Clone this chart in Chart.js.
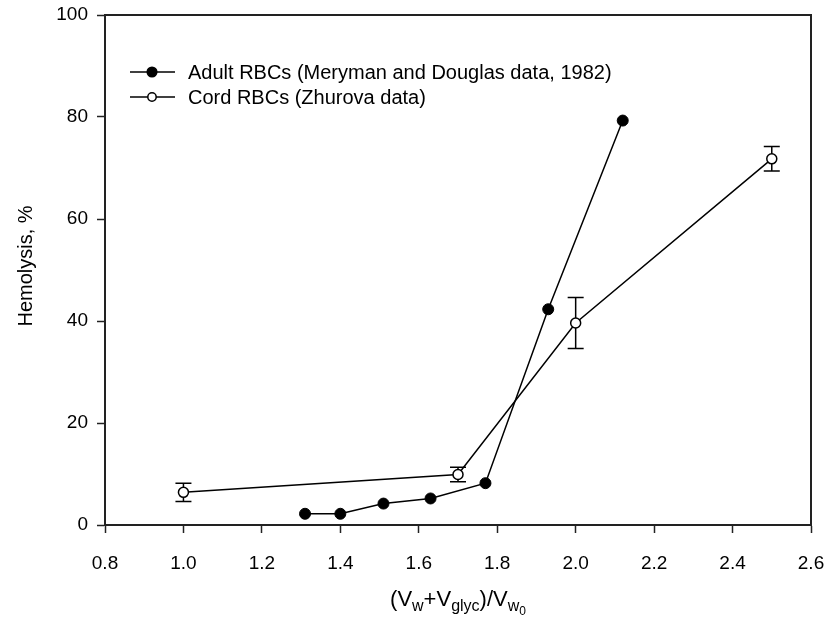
<!DOCTYPE html>
<html>
<head>
<meta charset="utf-8">
<script src="https://cdn.jsdelivr.net/npm/chart.js@4.4.0/dist/chart.umd.min.js"></script>
<style>
  html, body { margin: 0; padding: 0; background: #fff; }
</style>
</head>
<body>
<canvas id="hemoChart" width="827" height="617"></canvas>
<script>
// Adult RBCs (Meryman and Douglas, 1982)
const adultX = [1.31, 1.40, 1.51, 1.63, 1.77, 1.93, 2.12];
const adultY = [2.2, 2.2, 4.2, 5.2, 8.2, 42.3, 79.3];

// Cord RBCs (Zhurova) with symmetric error bars
const cordX = [1.0, 1.7, 2.0, 2.5];
const cordY = [6.4, 9.9, 39.6, 71.8];
const cordErr = [1.8, 1.4, 5.0, 2.4];

const xTicks = [0.8, 1.0, 1.2, 1.4, 1.6, 1.8, 2.0, 2.2, 2.4, 2.6];
const yTicks = [0, 20, 40, 60, 80, 100];

const legendLabels = [
  'Adult RBCs (Meryman and Douglas data, 1982)',
  'Cord RBCs (Zhurova data)'
];
const yTitle = 'Hemolysis, %';

const FONT = 'Liberation Sans, Arial, sans-serif';
const INK = '#000';

function toPoints(xs, ys) {
  return xs.map((x, i) => ({ x: x, y: ys[i] }));
}

// vertical error bars with caps, drawn under the markers
const errorBars = {
  id: 'errorBars',
  beforeDatasetsDraw(chart) {
    const ctx = chart.ctx;
    const xs = chart.scales.x, ys = chart.scales.y;
    ctx.save();
    ctx.strokeStyle = INK;
    ctx.lineWidth = 1.5;
    cordX.forEach((x, i) => {
      const px = xs.getPixelForValue(x);
      const top = ys.getPixelForValue(cordY[i] + cordErr[i]);
      const bot = ys.getPixelForValue(cordY[i] - cordErr[i]);
      ctx.beginPath();
      ctx.moveTo(px, top); ctx.lineTo(px, bot);
      ctx.moveTo(px - 8, top); ctx.lineTo(px + 8, top);
      ctx.moveTo(px - 8, bot); ctx.lineTo(px + 8, bot);
      ctx.stroke();
    });
    ctx.restore();
  }
};

// top and right sides of the frame
const frame = {
  id: 'frame',
  beforeDatasetsDraw(chart) {
    const { ctx, chartArea: a } = chart;
    ctx.save();
    ctx.strokeStyle = '#222';
    ctx.lineWidth = 2;
    ctx.beginPath();
    ctx.moveTo(a.left, a.top);
    ctx.lineTo(a.right, a.top);
    ctx.lineTo(a.right, a.bottom);
    ctx.stroke();
    ctx.restore();
  }
};

const legendBox = {
  id: 'legendBox',
  afterDraw(chart) {
    const ctx = chart.ctx;
    ctx.save();
    ctx.font = '20px ' + FONT;
    ctx.textBaseline = 'middle';
    const rows = [72, 97];
    rows.forEach((y, i) => {
      ctx.strokeStyle = INK;
      ctx.lineWidth = 1.5;
      ctx.beginPath();
      ctx.moveTo(130, y); ctx.lineTo(175, y);
      ctx.stroke();
      ctx.beginPath();
      ctx.arc(152, y, i === 0 ? 4.8 : 4.2, 0, Math.PI * 2);
      ctx.fillStyle = i === 0 ? INK : '#fff';
      ctx.fill();
      ctx.stroke();
      ctx.fillStyle = INK;
      ctx.fillText(legendLabels[i], 188, y + 1);
    });
    ctx.restore();
  }
};

const axisTitles = {
  id: 'axisTitles',
  afterDraw(chart) {
    const { ctx, chartArea: a } = chart;
    ctx.save();
    ctx.fillStyle = INK;

    // y title
    ctx.font = '20px ' + FONT;
    ctx.textAlign = 'center';
    ctx.textBaseline = 'middle';
    ctx.translate(26, 266);
    ctx.rotate(-Math.PI / 2);
    ctx.fillText(yTitle, 0, 0);
    ctx.setTransform(1, 0, 0, 1, 0, 0);

    // x title: (Vw+Vglyc)/Vw0
    const parts = [
      ['(V', 22, 0], ['w', 16, 5], ['+V', 22, 0], ['glyc', 16, 5],
      [')/V', 22, 0], ['w', 16, 5], ['0', 12, 9]
    ];
    ctx.textAlign = 'left';
    ctx.textBaseline = 'alphabetic';
    let width = 0;
    parts.forEach(p => { ctx.font = p[1] + 'px ' + FONT; width += ctx.measureText(p[0]).width; });
    let x = (a.left + a.right) / 2 - width / 2;
    const base = 606;
    parts.forEach(p => {
      ctx.font = p[1] + 'px ' + FONT;
      ctx.fillText(p[0], x, base + p[2]);
      x += ctx.measureText(p[0]).width;
    });
    ctx.restore();
  }
};

new Chart(document.getElementById('hemoChart').getContext('2d'), {
  type: 'scatter',
  data: {
    datasets: [{
      label: legendLabels[0],
      data: toPoints(adultX, adultY),
      showLine: true,
      borderColor: INK,
      borderWidth: 1.5,
      pointRadius: 5.5,
      pointBackgroundColor: INK,
      pointBorderColor: INK,
      pointBorderWidth: 1
    }, {
      label: legendLabels[1],
      data: toPoints(cordX, cordY),
      showLine: true,
      borderColor: INK,
      borderWidth: 1.5,
      pointRadius: 5,
      pointBackgroundColor: '#fff',
      pointBorderColor: INK,
      pointBorderWidth: 1.5
    }]
  },
  options: {
    responsive: false,
    animation: false,
    devicePixelRatio: 1,
    layout: { padding: { top: 15, right: 16, left: 0, bottom: 0 } },
    plugins: { legend: { display: false }, tooltip: { enabled: false } },
    scales: {
      x: {
        type: 'linear',
        min: 0.8,
        max: 2.6,
        afterBuildTicks: s => { s.ticks = xTicks.map(v => ({ value: v })); },
        afterFit: s => { s.height = 92; s.paddingLeft = 0; s.paddingRight = 0; },
        border: { display: true, color: '#222', width: 2 },
        grid: { drawOnChartArea: false, drawTicks: true, tickLength: 8, tickColor: '#222', tickWidth: 1.5 },
        ticks: {
          color: INK,
          font: { family: FONT, size: 19 },
          padding: 19,
          maxRotation: 0,
          callback: v => Number(v).toFixed(1)
        }
      },
      y: {
        type: 'linear',
        min: 0,
        max: 100,
        afterBuildTicks: s => { s.ticks = yTicks.map(v => ({ value: v })); },
        afterFit: s => { s.width = 105; s.paddingTop = 0; s.paddingBottom = 0; },
        border: { display: true, color: '#222', width: 2 },
        grid: { drawOnChartArea: false, drawTicks: true, tickLength: 8, tickColor: '#222', tickWidth: 1.5 },
        ticks: {
          color: INK,
          font: { family: FONT, size: 19 },
          padding: 9
        }
      }
    }
  },
  plugins: [errorBars, frame, legendBox, axisTitles]
});
</script>
</body>
</html>
